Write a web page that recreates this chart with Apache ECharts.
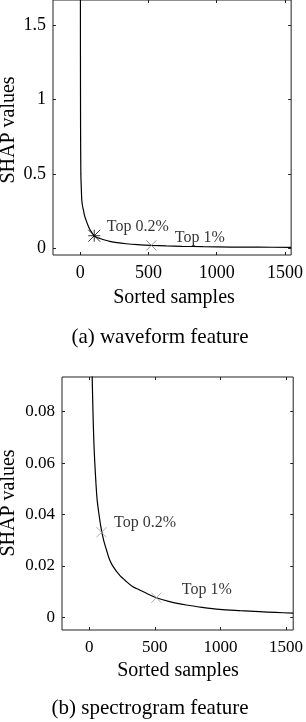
<!DOCTYPE html>
<html><head><meta charset="utf-8">
<script src="https://cdn.jsdelivr.net/npm/echarts@6/dist/echarts.min.js"></script>
<style>html,body{margin:0;padding:0;background:#fff}#c{width:306px;height:722px}</style>
</head><body><div id="c"></div>
<script>
// ---- data ----
const xTicks = [0, 500, 1000, 1500];
const waveTicksY = [0, 0.5, 1, 1.5];
const specTicksY = [0, 0.02, 0.04, 0.06, 0.08];

const waveCurve = [
  [1, 3.5], [2, 1.3], [3, 0.8], [5, 0.5], [8, 0.41], [12, 0.32], [18, 0.28], [24, 0.255],
  [33, 0.215], [43, 0.188], [55, 0.158], [67, 0.132], [85, 0.105], [103, 0.083],
  [120, 0.073], [144, 0.065], [180, 0.054], [216, 0.045], [270, 0.036], [337, 0.029],
  [420, 0.023], [521, 0.018], [630, 0.0145], [745, 0.0116], [900, 0.0092],
  [1106, 0.0067], [1300, 0.0057], [1545, 0.005]
];
const specCurve = [
  [18, 0.115], [23, 0.094], [30, 0.078], [36, 0.068], [43, 0.06], [52, 0.052], [61, 0.0456],
  [75, 0.04], [89, 0.0353], [110, 0.03], [132, 0.0262], [155, 0.0225], [183, 0.0197],
  [230, 0.0165], [284, 0.0139], [330, 0.012], [385, 0.0106], [450, 0.009], [512, 0.0076],
  [620, 0.006], [740, 0.0048], [860, 0.0039], [993, 0.0031], [1150, 0.0026],
  [1297, 0.0022], [1420, 0.0019], [1555, 0.0016]
];
const waveMarks = [[103, 0.083], [521, 0.018]];
const specMarks = [[94, 0.0331], [512, 0.0076]];
const markLabels = ['Top 0.2%', 'Top 1%'];
const xName = 'Sorted samples';
const yName = 'SHAP values';
const captions = ['(a) waveform feature', '(b) spectrogram feature'];

// ---- chart ----
const FONT = 'Liberation Serif';
const INK = '#000';
const AX = '#222';
const X_PATH = 'path://M0,0L10,10M10,0L0,10';
const STAR_PATH = 'path://M0,0L10,10M10,0L0,10M5,0L5,10M0,5L10,5';

const grids = [
  { left: 53, width: 241, top: -1, height: 256 },
  { left: 62, width: 232, top: 377, height: 253 }
];
const xRanges = [[-199, 1545], [-207, 1555]];
const yRanges = [[-0.047, 1.6725], [-0.00494, 0.0935]];
const yTicks = [waveTicksY, specTicksY];
const labelSizes = [18, 17];
const plain = v => String(v);

const xAxes = [], yAxes = [];
grids.forEach((g, i) => {
  const common = { gridIndex: i, type: 'value', splitLine: { show: false }, axisLine: { show: false, onZero: false } };
  const tick = vals => ({ inside: true, length: 3, lineStyle: { color: AX }, customValues: vals });
  xAxes.push(Object.assign({}, common, {
    position: 'bottom', min: xRanges[i][0], max: xRanges[i][1], axisTick: tick(xTicks),
    axisLabel: { customValues: xTicks, formatter: plain, color: INK, fontFamily: FONT, fontSize: labelSizes[i], margin: 9 }
  }));
  xAxes.push(Object.assign({}, common, {
    position: 'top', min: xRanges[i][0], max: xRanges[i][1], axisTick: tick(xTicks), axisLabel: { show: false }
  }));
  yAxes.push(Object.assign({}, common, {
    position: 'left', min: yRanges[i][0], max: yRanges[i][1], axisTick: tick(yTicks[i]),
    axisLabel: { customValues: yTicks[i], formatter: plain, color: INK, fontFamily: FONT, fontSize: labelSizes[i], margin: 7 }
  }));
  yAxes.push(Object.assign({}, common, {
    position: 'right', min: yRanges[i][0], max: yRanges[i][1], axisTick: tick(yTicks[i]), axisLabel: { show: false }
  }));
});

function markItems(marks, styles) {
  return marks.map((m, k) => ({
    value: m,
    symbol: styles[k].symbol,
    symbolSize: styles[k].size,
    itemStyle: { color: 'none', borderColor: styles[k].color, borderWidth: 1 },
    label: {
      show: true, formatter: markLabels[k], position: 'right',
      distance: styles[k].dist, offset: [0, styles[k].dy],
      color: INK, fontFamily: FONT, fontSize: 16
    },
    emphasis: { disabled: true }
  }));
}

const option = {
  animation: false,
  backgroundColor: '#fff',
  grid: grids.map(g => Object.assign({ show: true, borderColor: AX, borderWidth: 1, backgroundColor: 'transparent', containLabel: false }, g)),
  xAxis: xAxes,
  yAxis: yAxes,
  series: [
    { type: 'line', xAxisIndex: 0, yAxisIndex: 0, data: waveCurve, showSymbol: false, smooth: 0.3,
      clip: true, lineStyle: { color: '#000', width: 1.2 } },
    { type: 'scatter', xAxisIndex: 0, yAxisIndex: 0, z: 5,
      data: markItems(waveMarks, [
        { symbol: STAR_PATH, size: 12, color: '#000', dist: 4, dy: -9 },
        { symbol: X_PATH, size: 10, color: '#777', dist: 16, dy: -8 }
      ]) },
    { type: 'line', xAxisIndex: 2, yAxisIndex: 2, data: specCurve, showSymbol: false, smooth: 0.3,
      clip: true, lineStyle: { color: '#000', width: 1.2 } },
    { type: 'scatter', xAxisIndex: 2, yAxisIndex: 2, z: 5,
      data: markItems(specMarks, [
        { symbol: X_PATH, size: 10, color: '#999', dist: 5, dy: -9 },
        { symbol: X_PATH, size: 10, color: '#999', dist: 18, dy: -8 }
      ]) }
  ],
  graphic: [
    { type: 'text', x: 9, y: 130, rotation: Math.PI / 2,
      style: { text: yName, font: '20px "' + FONT + '"', fill: INK, textAlign: 'center', textVerticalAlign: 'middle' } },
    { type: 'text', x: 174, y: 298,
      style: { text: xName, font: '20px "' + FONT + '"', fill: INK, textAlign: 'center', textVerticalAlign: 'middle' } },
    { type: 'text', x: 160, y: 337,
      style: { text: captions[0], font: '21px "' + FONT + '"', fill: INK, textAlign: 'center', textVerticalAlign: 'middle' } },
    { type: 'text', x: 9, y: 503, rotation: Math.PI / 2,
      style: { text: yName, font: '20px "' + FONT + '"', fill: INK, textAlign: 'center', textVerticalAlign: 'middle' } },
    { type: 'text', x: 178, y: 671,
      style: { text: xName, font: '20px "' + FONT + '"', fill: INK, textAlign: 'center', textVerticalAlign: 'middle' } },
    { type: 'text', x: 150, y: 708,
      style: { text: captions[1], font: '21px "' + FONT + '"', fill: INK, textAlign: 'center', textVerticalAlign: 'middle' } }
  ]
};

const chart = echarts.init(document.getElementById('c'), null, { renderer: 'canvas' });
chart.setOption(option);
</script>
</body></html>
